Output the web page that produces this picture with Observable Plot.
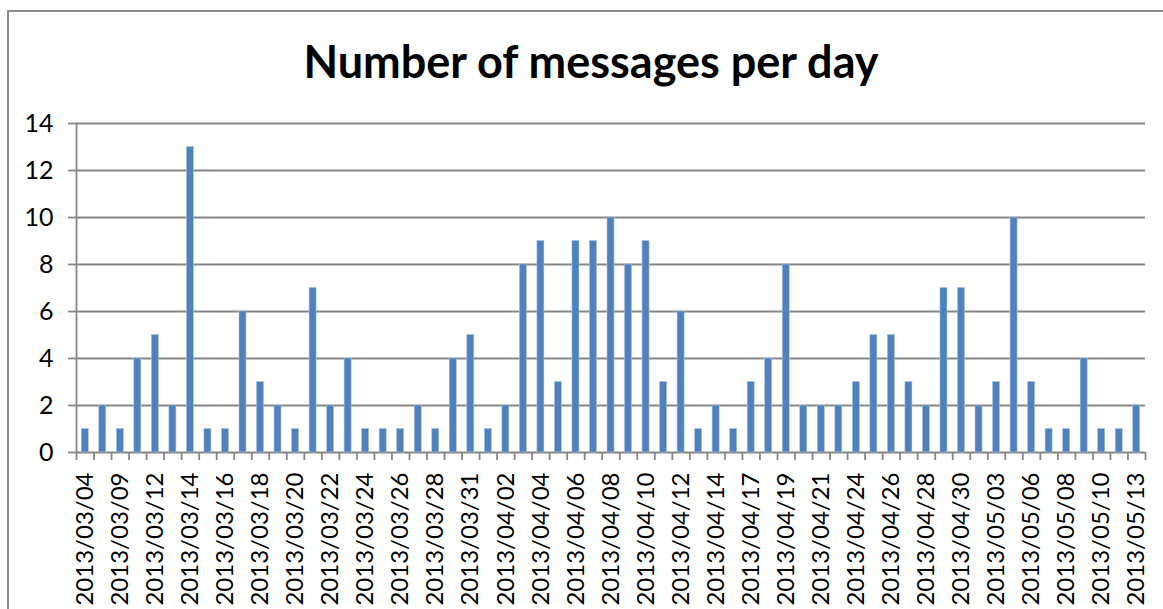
<!DOCTYPE html>
<html>
<head>
<meta charset="utf-8">
<script src="https://cdn.jsdelivr.net/npm/d3@7"></script>
<script src="https://cdn.jsdelivr.net/npm/@observablehq/plot@0.6"></script>
<style>
  html, body { margin: 0; padding: 0; background: #fff; }
  body { width: 1163px; height: 609px; position: relative; overflow: hidden; font-family: Lato, "Open Sans", sans-serif; }
  #frame { position: absolute; left: 7px; top: 10px; width: 1200px; height: 700px; border-left: 2px solid #8c8c8c; border-top: 2px solid #8c8c8c; box-sizing: border-box; }
  #title { position: absolute; left: 0; top: 34px; width: 1182px; text-align: center; font-family: Lato, sans-serif; font-weight: bold; font-size: 45px; line-height: 54px; color: #000; white-space: nowrap; }
  #chart { position: absolute; left: 0; top: 100px; }
</style>
</head>
<body>
<div id="frame"></div>
<div id="title">Number of messages per day</div>
<div id="chart"></div>
<script>
// Categories: days with messages (odd-position dates are not labelled in the original)
const dates = [
  "2013/03/04","2013/03/08","2013/03/09","2013/03/11","2013/03/12","2013/03/13","2013/03/14","2013/03/15",
  "2013/03/16","2013/03/17","2013/03/18","2013/03/19","2013/03/20","2013/03/21","2013/03/22","2013/03/23",
  "2013/03/24","2013/03/25","2013/03/26","2013/03/27","2013/03/28","2013/03/30","2013/03/31","2013/04/01",
  "2013/04/02","2013/04/03","2013/04/04","2013/04/05","2013/04/06","2013/04/07","2013/04/08","2013/04/09",
  "2013/04/10","2013/04/11","2013/04/12","2013/04/13","2013/04/14","2013/04/16","2013/04/17","2013/04/18",
  "2013/04/19","2013/04/20","2013/04/21","2013/04/23","2013/04/24","2013/04/25","2013/04/26","2013/04/27",
  "2013/04/28","2013/04/29","2013/04/30","2013/05/02","2013/05/03","2013/05/05","2013/05/06","2013/05/07",
  "2013/05/08","2013/05/09","2013/05/10","2013/05/12","2013/05/13"
];
// Messages per day
const counts = [
  1,2,1,4,5,2,13,1,1,6,
  3,2,1,7,2,4,1,1,1,2,
  1,4,5,1,2,8,9,3,9,9,
  10,8,9,3,6,1,2,1,3,4,
  8,2,2,2,3,5,5,3,2,7,
  7,2,3,10,3,1,1,4,1,1,
  2
];
// Y-axis tick values
const yTicks = [0,2,4,6,8,10,12,14];

const rows = dates.map((d, i) => ({i, date: d, count: counts[i]}));
const n = dates.length;
const labelIdx = d3.range(0, n, 2);          // every other category is labelled
const boundaries = d3.range(0, n + 1);       // tick marks between categories

const gray = "#868686";

const chart = Plot.plot({
  width: 1163,
  height: 509,
  marginLeft: 76,
  marginRight: 18,
  marginTop: 23,
  marginBottom: 157,
  style: {fontFamily: "Lato, 'Open Sans', sans-serif", color: "#000", background: "transparent"},
  x: {type: "linear", domain: [0, n]},
  y: {domain: [0, 14]},
  marks: [
    Plot.ruleY(yTicks, {stroke: gray, strokeWidth: 1.8}),
    Plot.ruleX([0], {y1: 0, y2: 14, stroke: gray, strokeWidth: 1.8}),
    Plot.rectY(rows, {x1: d => d.i + 0.3, x2: d => d.i + 0.7, y: "count", fill: "#4F81BD", stroke: "#a9c0de", strokeWidth: 0.6}),
    Plot.axisY({ticks: yTicks, tickSize: 8, tickPadding: 15, fontSize: 25, stroke: gray, strokeWidth: 1.8, tickFormat: d => String(d), label: null}),
    Plot.axisX({ticks: boundaries, tickSize: 8, stroke: gray, strokeWidth: 1.8, tickFormat: () => "", label: null}),
    Plot.axisX({ticks: labelIdx.map(i => i + 0.5), tickSize: 0, tickPadding: 20, tickRotate: -90, fontSize: 24,
                tickFormat: v => dates[Math.round(v - 0.5)], label: null})
  ]
});
document.getElementById("chart").appendChild(chart);
</script>
</body>
</html>
